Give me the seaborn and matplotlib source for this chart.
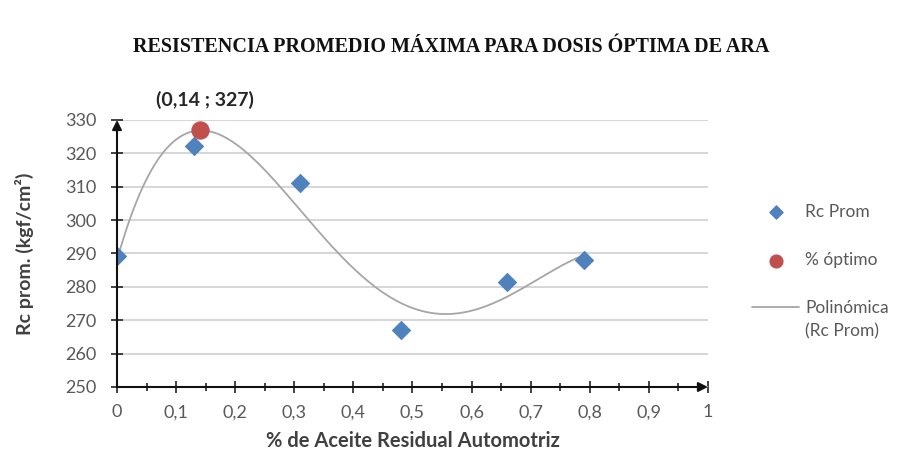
import numpy as np
import pandas as pd
import matplotlib
matplotlib.use("Agg")
import matplotlib.pyplot as plt
import seaborn as sns
from matplotlib.ticker import MultipleLocator, FuncFormatter

# ---- data ----
dosis = [0.0, 0.13, 0.31, 0.48, 0.66, 0.79]
rc_prom = [289.3, 322.1, 311.2, 267.0, 281.6, 288.2]
opt_x = [0.14]
opt_y = [327.0]
x_ticks = [0, 0.1, 0.2, 0.3, 0.4, 0.5, 0.6, 0.7, 0.8, 0.9, 1]
y_ticks = [250, 260, 270, 280, 290, 300, 310, 320, 330]
title = "RESISTENCIA PROMEDIO MÁXIMA PARA DOSIS ÓPTIMA DE ARA"
annot = "(0,14 ; 327)"
leg_labels = ["Rc Prom", "% óptimo", "Polinómica", "(Rc Prom)"]

sns.set_theme(style="white")
plt.rcParams['font.family'] = ['Lato', 'DejaVu Sans']

fig = plt.figure(figsize=(9.12, 4.55), dpi=100)
ax = fig.add_axes([117/912, 1-387/455, (708-117)/912, (387-120)/455])

blue = "#4F81BD"
red = "#C0504D"
gray_txt = "#595959"

# polynomial trendline (degree 4 least squares)
coef = np.polyfit(dosis, rc_prom, 4)
xs = np.linspace(0, 0.79, 300)
curve = pd.DataFrame({"x": xs, "y": np.polyval(coef, xs)})
sns.lineplot(data=curve, x="x", y="y", ax=ax, color="#A6A6A6", lw=1.3,
             label=leg_labels[2], zorder=2)

df = pd.DataFrame({"x": dosis, "y": rc_prom})
sns.scatterplot(data=df, x="x", y="y", ax=ax, marker="D", s=85, color=blue,
                edgecolor=blue, label=leg_labels[0], zorder=3)
dfo = pd.DataFrame({"x": opt_x, "y": opt_y})
sns.scatterplot(data=dfo, x="x", y="y", ax=ax, marker="o", s=150, color=red,
                edgecolor=red, label=leg_labels[1], zorder=4)

ax.set_xlim(0, 1)
ax.set_ylim(250, 330)
ax.set_xticks(x_ticks)
ax.set_yticks(y_ticks)
ax.xaxis.set_minor_locator(MultipleLocator(0.05))
ax.xaxis.set_major_formatter(FuncFormatter(lambda v, p: ("%g" % round(v, 2)).replace(".", ",")))
ax.yaxis.set_major_formatter(FuncFormatter(lambda v, p: "%d" % v))
ax.yaxis.grid(True, color="#D0D0D0", lw=1.2)
ax.xaxis.grid(False)
for s in ax.spines.values():
    s.set_visible(False)
ax.tick_params(axis="x", which="major", direction="inout", length=9, width=1.2,
               color="#222222", labelsize=13, labelcolor=gray_txt, pad=8, bottom=True)
ax.tick_params(axis="x", which="minor", direction="inout", length=6, width=1.2,
               color="#222222", bottom=True)
ax.tick_params(axis="y", which="major", direction="inout", length=8, width=1.2,
               color="#222222", labelsize=13, labelcolor=gray_txt, pad=11, left=True)

# axis arrows
ax.annotate("", xy=(0, 1.0), xytext=(0, 0), xycoords="axes fraction",
            arrowprops=dict(arrowstyle="-|>", color="#111111", lw=1.5,
                            mutation_scale=14, shrinkA=0, shrinkB=0), annotation_clip=False)
ax.annotate("", xy=(1.0, 0), xytext=(0, 0), xycoords="axes fraction",
            arrowprops=dict(arrowstyle="-|>", color="#111111", lw=1.5,
                            mutation_scale=14, shrinkA=0, shrinkB=0), annotation_clip=False)

ax.set_xlabel("% de Aceite Residual Automotriz", fontsize=14.5, fontweight="bold",
              color="#404040", labelpad=8)
ax.set_ylabel("Rc prom. (kgf/cm²)", fontsize=14, fontweight="bold",
              color="#404040", labelpad=22)

ax.annotate(annot, xy=(opt_x[0], opt_y[0]), xytext=(0.149, 336.0), textcoords="data",
            ha="center", va="center", fontsize=14, fontweight="bold",
            color="#262626", annotation_clip=False)

fig.text(451/912, 1-47/455, title, ha="center", va="center",
         fontsize=14.5, fontweight="bold", family=["Liberation Serif", "DejaVu Serif"],
         color="#111111")

handles, labels = ax.get_legend_handles_labels()
order = [labels.index(leg_labels[0]), labels.index(leg_labels[1]), labels.index(leg_labels[2])]
leg = ax.legend([handles[i] for i in order], [labels[i] for i in order],
                loc="upper left", bbox_to_anchor=(1.06, 0.405), frameon=False,
                fontsize=12.5, labelspacing=1.85, handlelength=2.7, handletextpad=0.35,
                markerscale=0.75, borderpad=0)
for t in leg.get_texts():
    t.set_color(gray_txt)

# place legend so rows sit at the reference positions, then add second line of last label
fig.canvas.draw()
r = fig.canvas.get_renderer()
bb0 = leg.get_texts()[0].get_window_extent(r)
target_y0 = 455 - 212  # pixel y (from bottom) of first row centre
cur_y0 = (bb0.y0 + bb0.y1) / 2
ax_h = (387 - 120)
leg.set_bbox_to_anchor((1.06, 0.405 + (target_y0 - cur_y0) / ax_h), transform=ax.transAxes)
fig.canvas.draw()
bb = leg.get_texts()[2].get_window_extent(r)
fig.text(bb.x0 / 912, (bb.y0 - 7) / 455, leg_labels[3], ha="left", va="top",
         fontsize=12.5, color=gray_txt)

fig.savefig("out.png", dpi=100, facecolor="white")
